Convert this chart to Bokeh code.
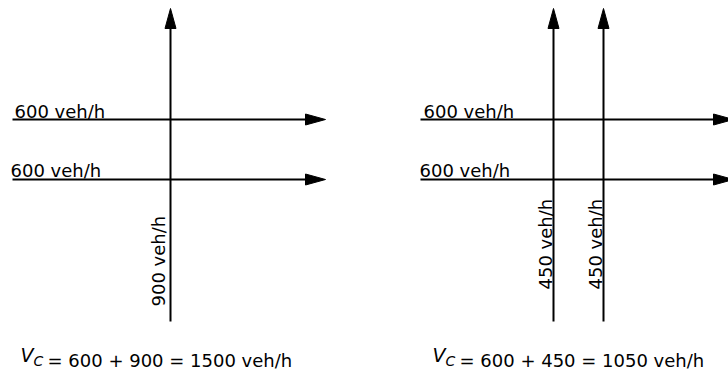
import math
from bokeh.plotting import figure
from bokeh.models import Range1d
from bokeh.core.properties import value
from bokeh.embed import file_html
from bokeh.resources import INLINE

# ---- data (vehicle flows, veh/h) ----
panel_a_through = [600, 600]      # two horizontal streams, left diagram
panel_a_crossing = [900]          # one vertical stream, left diagram
panel_b_through = [600, 600]      # two horizontal streams, right diagram
panel_b_crossing = [450, 450]     # two vertical streams, right diagram
unit = "veh/h"

# ---- layout (page pixel coordinates) ----
W, H = 728, 372
FONT = "DejaVu Sans"
FS = "18px"

def Y(img_y):
    return H - img_y

panels = [
    dict(through=panel_a_through, crossing=panel_a_crossing,
         x0=12, x_tip=325, cross_x=[170], lab_x=[14, 10],
         cross_lab_x=[158], cross_lab_y=306, fx=20),
    dict(through=panel_b_through, crossing=panel_b_crossing,
         x0=420, x_tip=733, cross_x=[553, 603], lab_x=[423, 419],
         cross_lab_x=[545, 595], cross_lab_y=289, fx=432),
]
row_y = [119, 179]
row_lab_y = [111, 170]
v_bottom, v_tip = 321, 8
head_len, head_half = 20, 5.5
formula_base = 360

p = figure(width=W, height=H, x_range=Range1d(0, W), y_range=Range1d(0, H),
           output_backend="svg", toolbar_location=None, min_border=0,
           x_axis_type=None, y_axis_type=None)
p.grid.visible = False
p.outline_line_color = None
p.background_fill_color = "white"
p.border_fill_color = "white"

seg_x0, seg_y0, seg_x1, seg_y1 = [], [], [], []
head_xs, head_ys = [], []
tx, ty, tt, ta = [], [], [], []

for pan in panels:
    # horizontal streams
    for i, flow in enumerate(pan["through"]):
        yy = Y(row_y[i])
        base = pan["x_tip"] - head_len
        seg_x0.append(pan["x0"]); seg_y0.append(yy); seg_x1.append(base); seg_y1.append(yy)
        head_xs.append([pan["x_tip"], base, base])
        head_ys.append([yy, yy + head_half, yy - head_half])
        tx.append(pan["lab_x"][i]); ty.append(Y(row_lab_y[i])); tt.append(f"{flow} {unit}"); ta.append(0)
    # vertical streams
    for j, flow in enumerate(pan["crossing"]):
        xx = pan["cross_x"][j]
        base = Y(v_tip + head_len)
        seg_x0.append(xx); seg_y0.append(Y(v_bottom)); seg_x1.append(xx); seg_y1.append(base)
        head_xs.append([xx, xx - head_half, xx + head_half])
        head_ys.append([Y(v_tip), base, base])
        tx.append(pan["cross_lab_x"][j]); ty.append(Y(pan["cross_lab_y"])); tt.append(f"{flow} {unit}"); ta.append(math.pi / 2)

p.segment(x0=seg_x0, y0=seg_y0, x1=seg_x1, y1=seg_y1, line_color="black", line_width=2)
p.patches(xs=head_xs, ys=head_ys, fill_color="black", line_color="black", line_width=1)
p.text(x=tx, y=ty, text=tt, angle=ta, text_font=value(FONT), text_font_size=FS,
       text_align="left", text_baseline="alphabetic", text_color="black")

# formulas
vx, vy, cx, cy, ex, ey, et = [], [], [], [], [], [], []
for pan in panels:
    a = pan["through"][0]
    b = pan["crossing"][0]
    vx.append(pan["fx"]); vy.append(Y(formula_base - 6))
    cx.append(pan["fx"] + 13); cy.append(Y(formula_base))
    ex.append(pan["fx"] + 27); ey.append(Y(formula_base))
    et.append(f"= {a} + {b} = {a + b} {unit}")

p.text(x=vx, y=vy, text=["V"] * len(vx), text_font=value(FONT), text_font_size="19px",
       text_font_style="italic", text_align="left", text_baseline="alphabetic", text_color="black")
p.text(x=cx, y=cy, text=["C"] * len(cx), text_font=value(FONT), text_font_size="14px",
       text_font_style="italic", text_align="left", text_baseline="alphabetic", text_color="black")
p.text(x=ex, y=ey, text=et, text_font=value(FONT), text_font_size=FS,
       text_align="left", text_baseline="alphabetic", text_color="black")

open("out.html", "w").write(file_html(p, INLINE))
